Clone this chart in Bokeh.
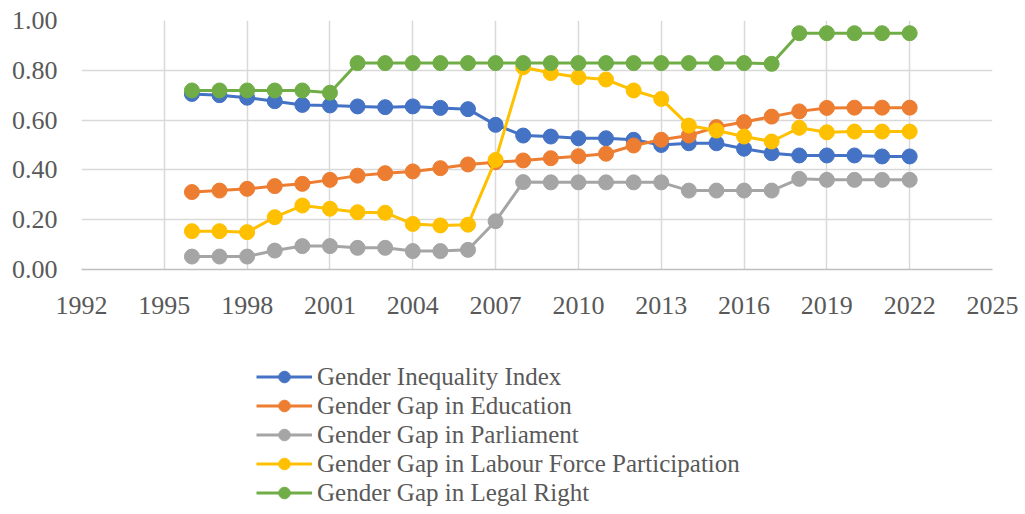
from bokeh.plotting import figure
from bokeh.layouts import column
from bokeh.models import Range1d, FixedTicker, Legend, LegendItem, NumeralTickFormatter
from bokeh.embed import file_html
from bokeh.resources import INLINE

years = list(range(1996, 2023))
gii = [0.705, 0.70, 0.69, 0.676, 0.661, 0.659, 0.655, 0.652, 0.655, 0.649, 0.644, 0.581,
       0.538, 0.534, 0.527, 0.527, 0.521, 0.50, 0.507, 0.507, 0.485, 0.467, 0.458, 0.458, 0.458, 0.454, 0.454]
edu = [0.311, 0.317, 0.324, 0.335, 0.344, 0.36, 0.377, 0.387, 0.394, 0.407, 0.422, 0.431,
       0.438, 0.447, 0.455, 0.465, 0.498, 0.521, 0.538, 0.572, 0.592, 0.614, 0.635, 0.649, 0.65, 0.65, 0.65]
parl = [0.052, 0.052, 0.052, 0.076, 0.094, 0.094, 0.087, 0.087, 0.074, 0.074, 0.079, 0.194,
        0.351, 0.35, 0.35, 0.35, 0.35, 0.35, 0.317, 0.317, 0.317, 0.317, 0.364, 0.36, 0.36, 0.36, 0.36]
labour = [0.154, 0.154, 0.15, 0.21, 0.257, 0.244, 0.23, 0.228, 0.183, 0.177, 0.18, 0.44,
          0.812, 0.789, 0.772, 0.763, 0.719, 0.685, 0.578, 0.558, 0.534, 0.514, 0.569, 0.551, 0.554, 0.554, 0.554]
legal = [0.719, 0.719, 0.719, 0.719, 0.719, 0.71, 0.829, 0.829, 0.829, 0.829, 0.829, 0.829,
         0.829, 0.829, 0.829, 0.829, 0.829, 0.829, 0.829, 0.829, 0.829, 0.826, 0.949, 0.949, 0.949, 0.949, 0.949]

names = ["Gender Inequality Index", "Gender Gap in Education", "Gender Gap in Parliament",
         "Gender Gap in Labour Force Participation", "Gender Gap in Legal Right"]
series = [gii, edu, parl, labour, legal]
colors = ["#4472C4", "#ED7D31", "#A5A5A5", "#FFC000", "#70AD47"]

x_ticks = list(range(1992, 2026, 3))
y_ticks = [0.0, 0.2, 0.4, 0.6, 0.8, 1.0]

FONT = "Liberation Serif"
TXT = "#595959"

p = figure(width=1020, height=325, output_backend="svg", toolbar_location=None,
           x_range=Range1d(1992, 2025), y_range=Range1d(0, 1),
           min_border_left=81, min_border_right=28, min_border_top=20, min_border_bottom=56)
p.outline_line_color = None
p.background_fill_color = "white"

p.xaxis.ticker = FixedTicker(ticks=x_ticks)
p.yaxis.ticker = FixedTicker(ticks=y_ticks)
p.yaxis.formatter = NumeralTickFormatter(format="0.00")
for ax in (p.xaxis, p.yaxis):
    ax.major_tick_line_color = None
    ax.minor_tick_line_color = None
    ax.major_tick_out = 0
    ax.major_tick_in = 0
    ax.minor_tick_out = 0
    ax.major_label_text_font = FONT
    ax.major_label_text_font_size = "26px"
    ax.major_label_text_color = TXT
p.yaxis.axis_line_color = None
p.xaxis.axis_line_color = "#BFBFBF"
p.xaxis.axis_line_width = 1.5
p.yaxis.major_label_standoff = 24
p.xaxis.major_label_standoff = 27

p.xgrid.ticker = FixedTicker(ticks=x_ticks)
p.ygrid.ticker = FixedTicker(ticks=y_ticks)
p.xgrid.grid_line_color = "#D9D9D9"
p.ygrid.grid_line_color = "#D9D9D9"
p.xgrid.grid_line_width = 1.5
p.ygrid.grid_line_width = 1.5

for vals, c in zip(series, colors):
    p.line(years, vals, line_color=c, line_width=3)
    p.scatter(years, vals, marker="circle", size=15, fill_color=c, line_color=c)

# legend panel below the chart (its renderers fall outside its 0..1 ranges)
q = figure(width=1020, height=187, output_backend="svg", toolbar_location=None,
           x_range=Range1d(0, 1), y_range=Range1d(0, 1),
           x_axis_location=None, y_axis_location=None,
           min_border_left=0, min_border_right=0, min_border_top=0, min_border_bottom=0)
q.outline_line_color = None
q.xgrid.visible = False
q.ygrid.visible = False

items = []
for name, vals, c in zip(names, series, colors):
    l = q.line(years, vals, line_color=c, line_width=3)
    s = q.scatter(years, vals, marker="circle", size=12, fill_color=c, line_color=c)
    items.append(LegendItem(label=name, renderers=[l, s]))

legend = Legend(items=items, location=(175, 5), orientation="vertical",
                label_text_font=FONT, label_text_font_size="25px", label_text_color=TXT,
                glyph_width=56, glyph_height=29, label_height=29, spacing=0,
                label_standoff=5, padding=0, margin=0,
                border_line_color=None, background_fill_alpha=0)
q.add_layout(legend, "center")

layout = column(p, q, spacing=0)
open("out.html", "w").write(file_html(layout, INLINE))
